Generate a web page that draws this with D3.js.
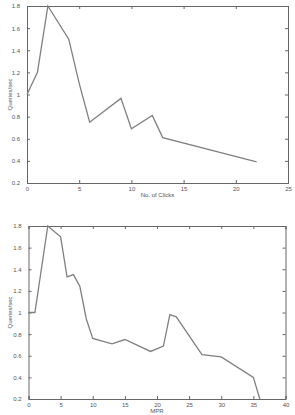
<!DOCTYPE html>
<html>
<head>
<meta charset="utf-8">
<script src="https://cdn.jsdelivr.net/npm/d3@7"></script>
<style>
  body { margin: 0; background: #fff; }
  svg text { font-family: "Liberation Sans", Arial, sans-serif; fill: #555; }
</style>
</head>
<body>
<div id="chart"></div>
<script>
// top panel: queries/sec vs number of clicks
const clicks = [0, 1, 2, 4, 5, 6, 9, 10, 12, 13, 22]
const clicksQps = [1.0, 1.2, 1.8, 1.5, 1.1, 0.75, 0.965, 0.69, 0.81, 0.61, 0.39]

// bottom panel: queries/sec vs MPR
const mpr = [0, 1, 3, 5, 6, 7, 8, 9, 10, 13, 15, 19, 21, 22, 23, 27, 30, 35, 36]
const mprQps = [1.0, 1.0, 1.8, 1.7, 1.33, 1.35, 1.24, 0.94, 0.76, 0.71, 0.75, 0.64, 0.69, 0.98, 0.96, 0.61, 0.59, 0.4, 0.2]

const yTicks = [0.2, 0.4, 0.6, 0.8, 1, 1.2, 1.4, 1.6, 1.8]
const clickTicks = [0, 5, 10, 15, 20, 25]
const mprTicks = [0, 5, 10, 15, 20, 25, 30, 35, 40]

const svg = d3.select('#chart').append('svg').attr('width', 295).attr('height', 415)

function panel(xs, ys, xDomain, xTicks, xLabel, box) {
    const xScale = d3.scaleLinear().domain(xDomain).range([box.left, box.right])
    const yScale = d3.scaleLinear().domain([0.2, 1.8]).range([box.bottom, box.top])
    const g = svg.append('g')

    // ticks on all four sides, pointing inwards
    const tick = 3
    const axes = [
        { axis: d3.axisBottom(xScale).tickValues(xTicks).tickSize(-tick).tickPadding(4), t: 'translate(0,' + box.bottom + ')', labels: true },
        { axis: d3.axisTop(xScale).tickValues(xTicks).tickSize(-tick), t: 'translate(0,' + box.top + ')', labels: false },
        { axis: d3.axisLeft(yScale).tickValues(yTicks).tickSize(-tick).tickPadding(7).tickFormat(d3.format('')), t: 'translate(' + box.left + ',0)', labels: true },
        { axis: d3.axisRight(yScale).tickValues(yTicks).tickSize(-tick), t: 'translate(' + box.right + ',0)', labels: false }
    ]
    axes.forEach(function(a) {
        const ag = g.append('g').attr('transform', a.t).call(a.axis)
        ag.select('.domain').attr('stroke', '#666').attr('stroke-width', 1)
        ag.selectAll('.tick line').attr('stroke', '#666')
        ag.selectAll('.tick text').attr('font-size', 6).attr('fill', '#555')
            .attr('font-family', '"Liberation Sans", Arial, sans-serif')
        if (!a.labels) ag.selectAll('.tick text').remove()
    })

    const line = d3.line()
        .x(function(d, i) { return xScale(xs[i]) })
        .y(function(d) { return yScale(d) })

    g.append('path')
        .datum(ys)
        .attr('d', line)
        .attr('fill', 'none')
        .attr('stroke', '#808080')
        .attr('stroke-width', 1.3)

    g.append('text')
        .attr('x', (box.left + box.right) / 2)
        .attr('y', box.bottom + 14)
        .attr('text-anchor', 'middle')
        .attr('font-size', 6)
        .text(xLabel)

    g.append('text')
        .attr('transform', 'translate(12,' + (box.top + box.bottom) / 2 + ') rotate(-90)')
        .attr('text-anchor', 'middle')
        .attr('font-size', 6)
        .text('Queries/sec')
}

panel(clicks, clicksQps, [0, 25], clickTicks, 'No. of Clicks', { left: 27, right: 288, top: 6, bottom: 183 })
panel(mpr, mprQps, [0, 40], mprTicks, 'MPR', { left: 28.5, right: 285.5, top: 226, bottom: 399 })
</script>
</body>
</html>
